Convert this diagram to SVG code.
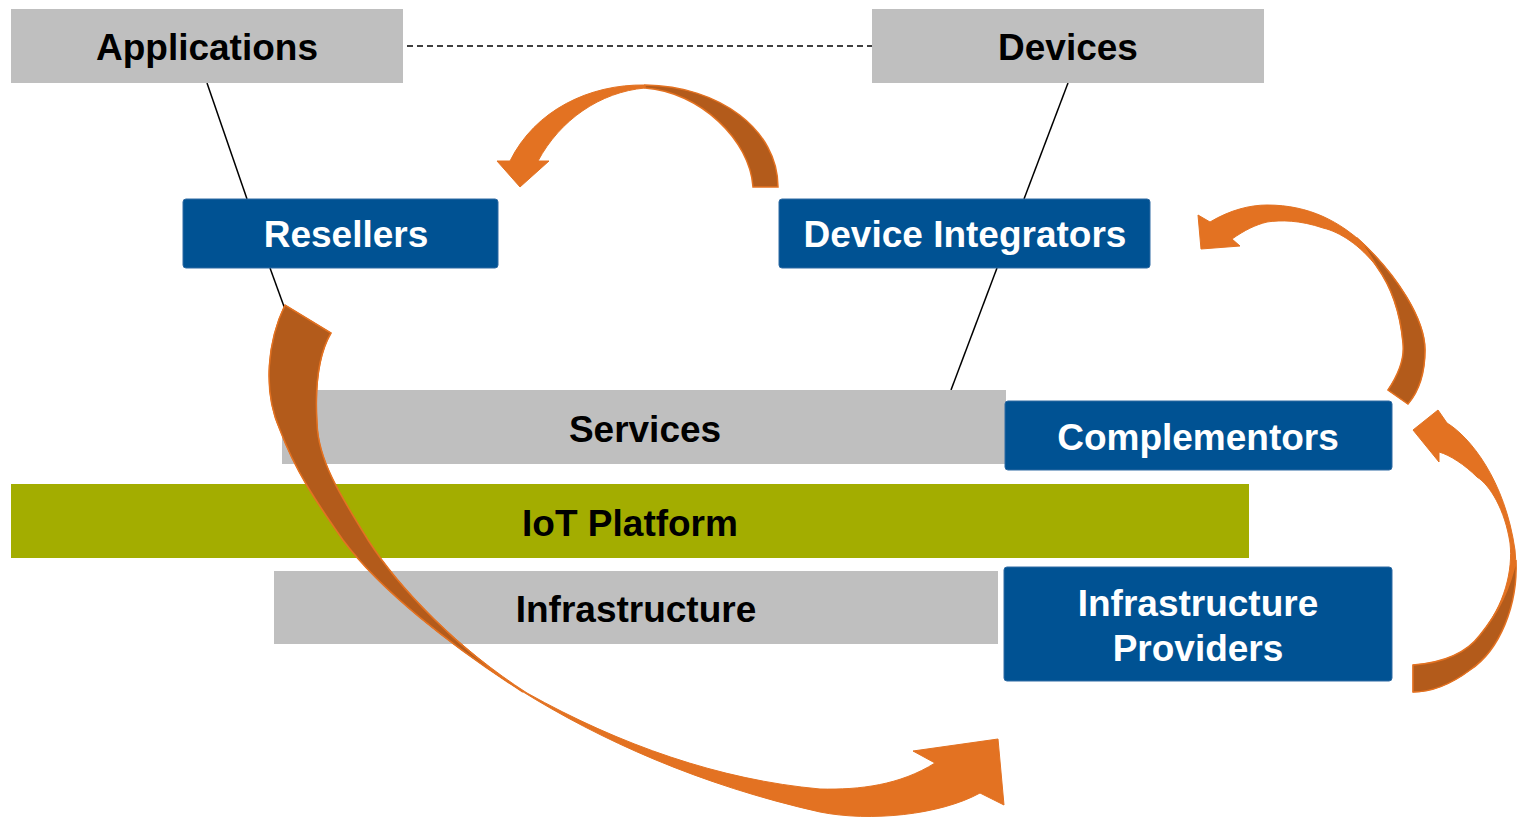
<svg xmlns="http://www.w3.org/2000/svg" width="1522" height="818" viewBox="0 0 1522 818">
<style>
.gray{fill:#BFBFBF}
.blue{fill:#005293;stroke:#2f6aa3;stroke-width:1}
.green{fill:#A3AD00}
.tb{font-family:"Liberation Sans",Arial,sans-serif;font-weight:bold;font-size:37px;text-anchor:middle;fill:#000}
.tw{font-family:"Liberation Sans",Arial,sans-serif;font-weight:bold;font-size:37px;text-anchor:middle;fill:#fff}
.ln{stroke:#000;stroke-width:1.5;fill:none}
.lt{fill:#E37222;stroke:#E37222;stroke-width:1}
.dk{fill:#B35B1B;stroke:#E37222;stroke-width:1.5}
</style>
<rect width="1522" height="818" fill="#fff"/>
<g id="connectors">
<line class="ln" x1="407" y1="46" x2="872" y2="46" stroke-dasharray="6,4"/>
<line class="ln" x1="207" y1="83" x2="247" y2="199"/>
<line class="ln" x1="270" y1="268" x2="286" y2="312"/>
<line class="ln" x1="1068" y1="83" x2="1024" y2="199"/>
<line class="ln" x1="997" y1="268" x2="951" y2="390"/>
</g>
<g id="applications"><rect class="gray" x="11" y="9" width="392" height="74"/><text class="tb" x="207" y="60">Applications</text></g>
<g id="devices"><rect class="gray" x="872" y="9" width="392" height="74"/><text class="tb" x="1068" y="60">Devices</text></g>
<g id="resellers"><rect class="blue" x="183" y="199" width="315" height="69" rx="3"/><text class="tw" x="346" y="247">Resellers</text></g>
<g id="device-integrators"><rect class="blue" x="779" y="199" width="371" height="69" rx="3"/><text class="tw" x="965" y="247">Device Integrators</text></g>
<g id="services"><rect class="gray" x="282" y="390" width="724" height="74"/><text class="tb" x="645" y="442">Services</text></g>
<g id="complementors"><rect class="blue" x="1005" y="401" width="387" height="69" rx="3"/><text class="tw" x="1198" y="450">Complementors</text></g>
<g id="iot-platform"><rect class="green" x="11" y="484" width="1238" height="74"/><text class="tb" x="630" y="536">IoT Platform</text></g>
<g id="infrastructure"><rect class="gray" x="274" y="571" width="724" height="73"/><text class="tb" x="636" y="622">Infrastructure</text></g>
<g id="infrastructure-providers"><rect class="blue" x="1004" y="567" width="388" height="114" rx="3"/><text class="tw" x="1198" y="616">Infrastructure</text><text class="tw" x="1198" y="661">Providers</text></g>
<g id="arrows">
<!-- top arrow: Device Integrators -> Resellers -->
<path class="lt" d="M645,85 C590,84 535,110 510,161 L497,161 L520,187 L549,161 L538,161 C560,120 600,92 645,88 Z"/>
<path class="dk" d="M645,85 C720,86 778,130 778,187 L753,187 C750,140 700,92 645,88 Z"/>
<!-- right top arrow: Complementors -> Device Integrators -->
<path class="lt" d="M1198,215 L1210,222 C1230,210 1250,205 1267,205 C1310,205 1340,222 1365,245 C1400,280 1425,320 1425,350 C1425,370 1420,390 1408,404 L1388,390 C1398,375 1405,360 1403,343 C1400,310 1390,285 1377,267 C1360,245 1340,232 1323,228 C1300,220 1280,220 1267,222 C1255,225 1245,230 1232,239 L1240,246 L1201,249 Z"/>
<path class="dk" d="M1357,238 C1398,275 1425,320 1425,350 C1425,370 1420,390 1408,404 L1388,390 C1398,375 1405,360 1403,343 C1400,310 1390,285 1377,267 C1370,255 1364,246 1357,238 Z"/>
<!-- right lower arrow: Infrastructure Providers -> Complementors -->
<path class="lt" d="M1413,430 L1438,410 L1447,423 C1470,437 1505,480 1515,550 C1520,600 1500,650 1470,670 C1450,685 1430,692 1413,692 L1413,665 C1440,663 1465,655 1480,635 C1505,605 1513,570 1510,543 C1505,510 1490,485 1477,477 C1465,465 1450,455 1439,452 L1439,462 Z"/>
<path class="dk" d="M1516,560 C1518,605 1500,650 1470,670 C1450,685 1430,692 1413,692 L1413,665 C1440,663 1465,655 1480,635 C1503,607 1512,580 1516,560 Z"/>
<!-- big arrow: Resellers -> Infrastructure Providers -->
<path class="lt" d="M285,305 C268,340 262,390 280,430 C295,470 315,500 343,540 C380,590 450,645 520,690 C600,740 700,785 820,812 C870,822 940,815 980,793 L1004,805 L998,739 L913,751 L935,763 C900,785 860,790 820,789 C720,780 620,745 527,693 C460,650 400,590 368,540 C340,495 318,460 317,423 C315,390 318,355 331,333 Z"/>
<path class="dk" d="M285,305 C268,340 262,390 280,430 C295,470 315,500 343,540 C380,590 450,645 523,692 C460,650 400,590 368,540 C340,495 318,460 317,423 C315,390 318,355 331,333 Z"/>
</g>
</svg>
